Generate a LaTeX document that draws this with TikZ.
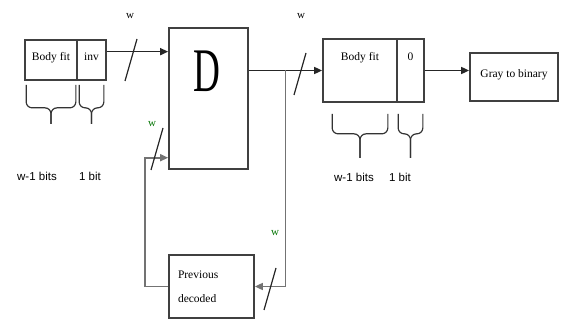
\documentclass[tikz,border=0pt]{standalone}
\usepackage{fontspec}
\setmainfont{Liberation Serif}
\newfontfamily\bitsfont{Liberation Sans}
\usetikzlibrary{arrows.meta,calc}

% curly brace under a register field: node, inset, gap, depth, stem
\newcommand{\bitbrace}[5]{%
  \draw[brc] ([xshift=#2pt,yshift=-#3pt]#1.south west) -- ++(0,#4) coordinate (bb)
        -- (bb -| #1.south) -- ++(0,#5);
  \draw[brc] ([xshift=-#2pt,yshift=-#3pt]#1.south east) -- ++(0,#4)
        -- (bb -| #1.south) -- ++(0,#5);}

\begin{document}
\begin{tikzpicture}[x=1pt,y=-1pt,
  >={Triangle[length=8pt,width=7pt]},
  box/.style={draw=black!75,line width=1.7pt,inner sep=0pt,
              font=\fontsize{11.5}{13}\selectfont},
  arr/.style={->,line width=1.6pt,black!85},
  fb/.style={->,line width=1.6pt,black!55},
  brc/.style={line width=1.2pt,black!80,rounded corners=6pt},
  bits/.style={font=\bitsfont\fontsize{11.5}{13}\selectfont,inner sep=1pt},
  wlab/.style={font=\fontsize{11}{12}\selectfont,inner sep=1pt},
  bus/.pic={\draw[line width=1.2pt,black!85] (-6,21) -- (6,-21);},
]
\useasboundingbox (0,0) rectangle (566,326);

% ------------------------------------------------------------ registers
\node[box,minimum width=52pt,minimum height=40pt,text height=8pt,text depth=6pt]
      (fitL)  at (51,60)    {Body fit};
\node[box,minimum width=29pt,minimum height=40pt,text height=8pt,text depth=6pt]
      (invL)  at (91.5,60)  {inv};
\node[box,minimum width=74pt,minimum height=63pt,inner ysep=14pt,text height=8pt,text depth=27pt]
      (fitR)  at (360,70.5) {Body fit};
\node[box,minimum width=27pt,minimum height=63pt,inner ysep=14pt,text height=8pt,text depth=27pt]
      (zeroR) at (410.5,70.5) {0};

% ------------------------------------------------------------ blocks
\node[box,minimum width=79pt,minimum height=141pt] (dec) at (208.5,98.5) {};
\node[inner sep=0pt,font=\fontsize{62}{62}\selectfont] (dtext) at (207,71) {\scalebox{0.6}[1]{D}};
\node[box,minimum width=88pt,minimum height=48pt,text height=8pt,text depth=6pt]
      (gray)  at (514,77)   {Gray to binary};
\node[box,minimum height=63pt,inner xsep=9pt,text width=67pt,align=left,
      font=\fontsize{11.5}{24}\selectfont]
      (prev)  at (211.5,286.5) {Previous\\decoded};

% ------------------------------------------------------------ data path
\draw[arr] ($(invL.north east)!0.3!(invL.south east)$) coordinate (regout) -- (regout -| dec.west);
\draw[arr] (dec.east |- fitR.west) coordinate (decout) -- (fitR.west);
\draw[arr] (zeroR.east) -- (zeroR.east -| gray.west);

% feedback through the previous decoded word
\coordinate (tap)  at ($(decout)!0.5!(fitR.west)$);
\coordinate (fbin) at ($(dec.south west)!0.085!(dec.north west)$);
\draw[fb] (tap) |- (prev.east);
\draw[fb] (prev.west) -- ++(-23,0) |- (fbin);

% ------------------------------------------------------------ bus widths
\pic at (131,60)  {bus};
\pic at (300,74)  {bus};
\pic at (157,149) {bus};
\pic at (270,289) {bus};
\node[wlab] (w1) at (130,16)  {w};
\node[wlab] (w2) at (301,16)  {w};
\node[wlab,text=green!45!black] (w3) at (152,124) {w};
\node[wlab,text=green!45!black] (w4) at (275,233) {w};

% ------------------------------------------------------------ field widths
\bitbrace{fitL}{2}{4}{23}{16}
\bitbrace{invL}{3}{4}{23}{16}
\bitbrace{fitR}{10}{11}{20}{24}
\bitbrace{zeroR}{2}{11}{20}{24}
\node[bits] (lw1) at (37,176)  {w-1 bits};
\node[bits] (lb1) at (90,176)  {1 bit};
\node[bits] (rw1) at (354,177) {w-1 bits};
\node[bits] (rb1) at (400,177) {1 bit};

\end{tikzpicture}
\end{document}
